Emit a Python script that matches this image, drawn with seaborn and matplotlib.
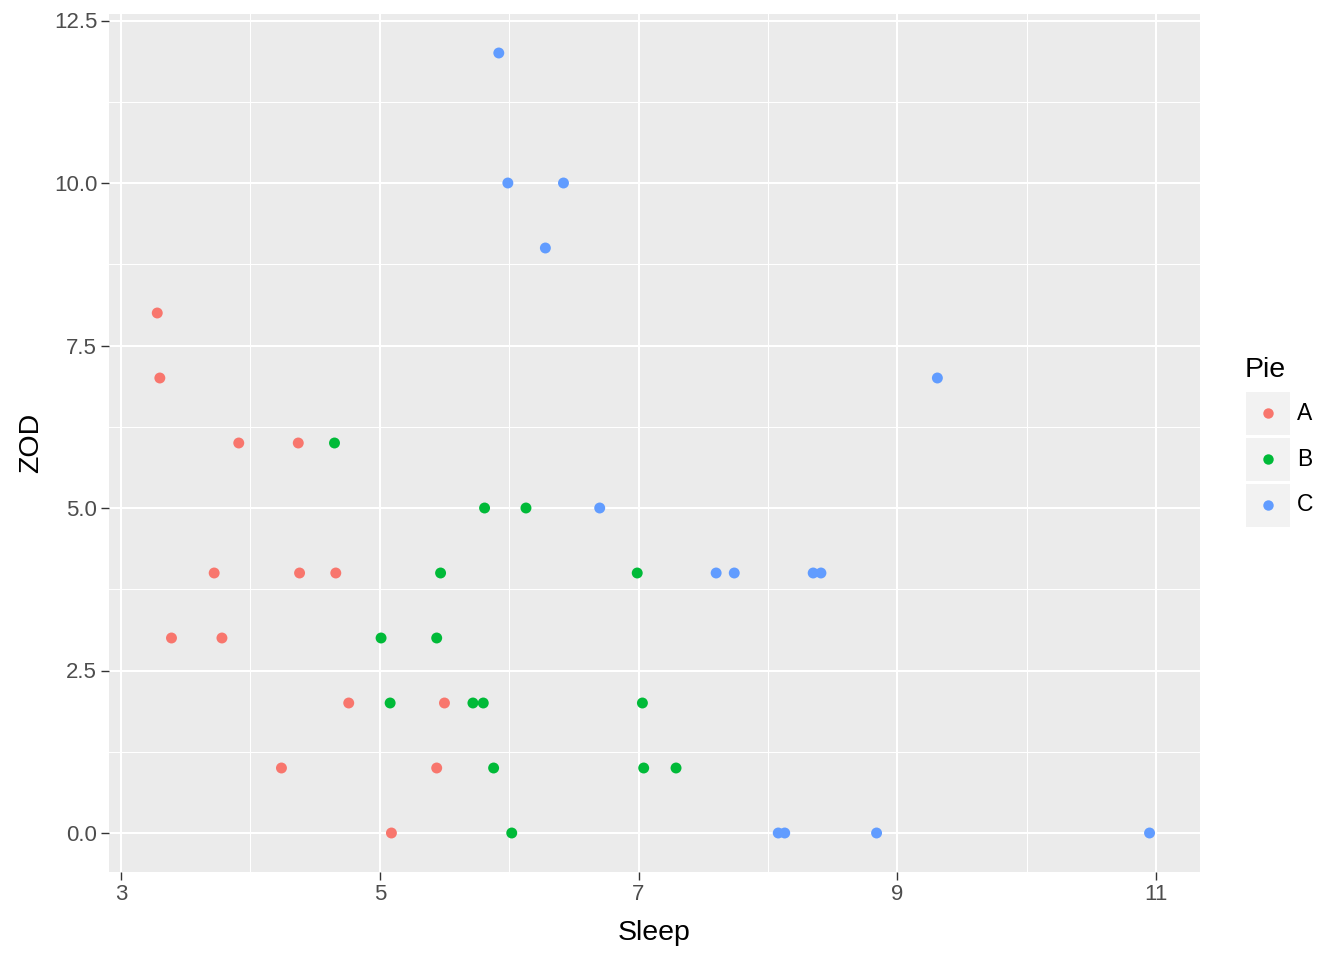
import numpy as np
import pandas as pd
import matplotlib
matplotlib.use("Agg")
import matplotlib.pyplot as plt
import seaborn as sns
from matplotlib.patches import Rectangle
from matplotlib.ticker import MultipleLocator, FormatStrFormatter

# data
sleep_a = [3.28, 3.30, 3.91, 4.37, 3.72, 4.38, 4.66, 3.39, 3.78, 4.76, 5.50, 4.24, 5.44, 5.09]
zod_a   = [8, 7, 6, 6, 4, 4, 4, 3, 3, 2, 2, 1, 1, 0]
sleep_b = [4.65, 5.81, 6.13, 5.47, 6.99, 5.01, 5.44, 5.08, 5.72, 5.80, 7.03, 5.88, 7.04, 7.29, 6.02]
zod_b   = [6, 5, 5, 4, 4, 3, 3, 2, 2, 2, 2, 1, 1, 1, 0]
sleep_c = [5.92, 5.99, 6.42, 6.28, 9.31, 6.70, 7.60, 7.74, 8.35, 8.41, 8.08, 8.13, 8.84, 10.95]
zod_c   = [12, 10, 10, 9, 7, 5, 4, 4, 4, 4, 0, 0, 0, 0]
groups = ["A", "B", "C"]
colors = ["#F8766D", "#00BA38", "#619CFF"]

df = pd.DataFrame({
    "Sleep": sleep_a + sleep_b + sleep_c,
    "ZOD": zod_a + zod_b + zod_c,
    "Pie": ["A"] * len(sleep_a) + ["B"] * len(sleep_b) + ["C"] * len(sleep_c),
})

plt.rcParams['font.family'] = ['Liberation Sans', 'DejaVu Sans']

fig = plt.figure(figsize=(13.44, 9.6), dpi=100)
ax = fig.add_axes([109 / 1344, 1 - 872 / 960, (1200 - 109) / 1344, (872 - 14) / 960])

ax.set_facecolor("#EBEBEB")
for s in ax.spines.values():
    s.set_visible(False)

sns.scatterplot(data=df, x="Sleep", y="ZOD", hue="Pie", hue_order=groups,
                palette=colors, s=62, linewidth=0, ax=ax, zorder=3, legend=False)

ax.set_xlim(2.907, 11.34)
ax.set_ylim(-0.6, 12.6)
ax.set_xticks([3, 5, 7, 9, 11])
ax.xaxis.set_minor_locator(MultipleLocator(1))
ax.yaxis.set_major_locator(MultipleLocator(2.5))
ax.yaxis.set_minor_locator(MultipleLocator(1.25))
ax.yaxis.set_major_formatter(FormatStrFormatter('%.1f'))

ax.grid(which="major", color="white", linewidth=1.5)
ax.grid(which="minor", color="white", linewidth=0.75)
ax.set_axisbelow(True)
ax.tick_params(which="major", length=5.5, width=1.0, color="#333333",
               labelcolor="#4D4D4D", labelsize=16, pad=3)
ax.tick_params(which="minor", length=0)

ax.set_xlabel("Sleep", fontsize=20.5, labelpad=11)
ax.set_ylabel("ZOD", fontsize=20.5, labelpad=7)

# legend, ggplot style
fig.text(1245 / 1344, 1 - 370 / 960, "Pie", fontsize=20.5, va="center", ha="left")
key_y = [413, 459, 505]
for g, c, y in zip(groups, colors, key_y):
    fig.patches.append(Rectangle((1246 / 1344, 1 - (y + 21.5) / 960), 44 / 1344, 43 / 960,
                                 transform=fig.transFigure, facecolor="#F2F2F2",
                                 edgecolor="none"))
    fig.text(1297 / 1344, 1 - y / 960, g, fontsize=16.5, va="center", ha="left")
    fig.add_artist(plt.Line2D([1268 / 1344], [1 - y / 960], marker="o", markersize=7.5,
                              color=c, markeredgewidth=0, transform=fig.transFigure))

plt.savefig("out.png", dpi=100)
